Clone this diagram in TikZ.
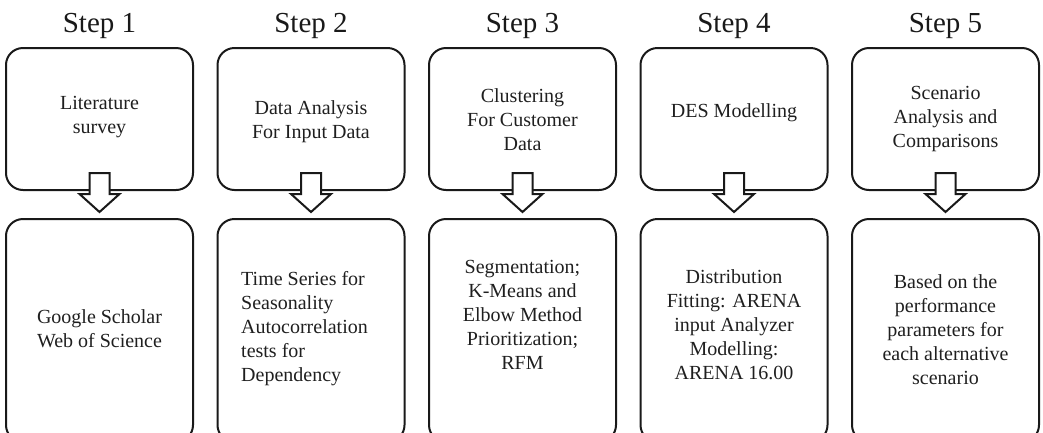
\documentclass[tikz,border=0pt]{standalone}
\usepackage{fontspec}
\setmainfont{Liberation Serif}
\begin{document}
\begin{tikzpicture}[x=1pt,y=-1pt,
  box/.style={draw=black!90, line width=2pt, rounded corners=17pt, minimum width=187pt, inner sep=0pt},
  topbox/.style={box, minimum height=142pt},
  botbox/.style={box, minimum height=223pt},
  title/.style={font=\fontsize{29}{33}\selectfont, anchor=base, inner sep=0pt, text=black!90},
  txt/.style={font=\fontsize{20}{24}\selectfont, align=center, inner sep=0pt, text=black!88},
  blockarrow/.style={draw=black!90, fill=white, line width=2pt, line join=miter}
]
\useasboundingbox (0,0) rectangle (1043,432);
\clip (0,0) rectangle (1043,432);
\foreach \i/\n in {0/1,1/2,2/3,3/4,4/5}{
  \pgfmathsetmacro{\cx}{99.5+211.5*\i}
  \node[title] (s\n) at (\cx,32) {Step \n};
  \node[topbox] (t\n) at (\cx,119) {};
  \node[botbox] (b\n) at (\cx,330.5) {};
  \draw[blockarrow] ([xshift=-10pt,yshift=18pt]t\n.south) -- ([xshift=10pt,yshift=18pt]t\n.south)
    -- ([xshift=10pt,yshift=-3pt]t\n.south) -- ([xshift=20pt,yshift=-3pt]t\n.south)
    -- ([yshift=6pt]b\n.north) -- ([xshift=-20pt,yshift=-3pt]t\n.south)
    -- ([xshift=-10pt,yshift=-3pt]t\n.south) -- cycle;
}
\node[txt] (tt1) at (99.5,117) {Literature\\survey};
\node[txt] (tt2) at (311,122) {Data Analysis\\For Input Data};
\node[txt] (tt3) at (522.5,120) {Clustering\\For Customer\\Data};
\node[txt] (tt4) at (734,113) {DES Modelling};
\node[txt] (tt5) at (945.5,119) {Scenario\\Analysis and\\Comparisons};
\node[txt] (bt1) at (99.5,329) {Google Scholar\\Web of Science};
\node[txt, align=left, anchor=west] (bt2) at (241,329) {Time Series for\\Seasonality\\Autocorrelation\\tests for\\Dependency};
\node[txt] (bt3) at (522.5,315) {Segmentation;\\K-Means and\\Elbow Method\\Prioritization;\\RFM};
\node[txt] (bt4) at (734,325) {Distribution\\Fitting: ARENA\\input Analyzer\\Modelling:\\ARENA 16.00};
\node[txt] (bt5) at (945.5,330) {Based on the\\performance\\parameters for\\each alternative\\scenario};
\end{tikzpicture}
\end{document}
